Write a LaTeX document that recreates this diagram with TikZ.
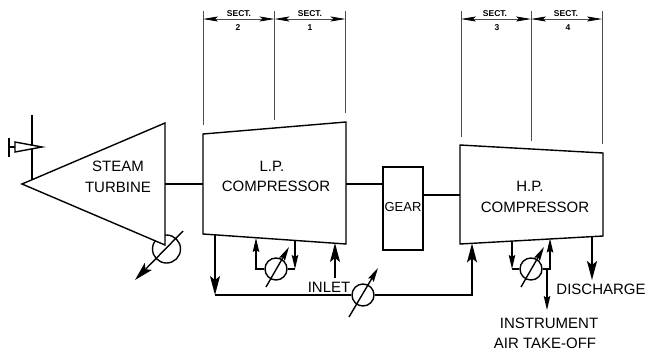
\documentclass[tikz,border=0pt]{standalone}
\usepackage{fontspec}
\setmainfont{Liberation Sans}
\usetikzlibrary{arrows.meta}

\begin{document}
\begin{tikzpicture}[x=1pt,y=-1pt,line width=1.4pt,line join=miter]
		\tikzset{
			label/.style={inner sep=0pt,font=\fontsize{15}{18}\selectfont},
			sectlabel/.style={inner sep=0pt,font=\fontsize{8.5}{10}\selectfont\bfseries},
			cooler/.style={draw,circle,inner sep=0pt,minimum size=22pt},
			flow/.style={-{Stealth[length=19pt,width=10pt,inset=4pt]}},
			smallflow/.style={-{Stealth[length=14pt,width=6.5pt,inset=2pt]}},
			sectline/.style={line width=0.7pt,black!70},
			sectdim/.style={line width=0.7pt,black!70,{Stealth[length=15pt,width=5pt,inset=3pt,black]}-{Stealth[length=15pt,width=5pt,inset=3pt,black]}}
		}
		\useasboundingbox (0,0) rectangle (647,354);

		% machines
		\node[cooler,minimum size=28pt] (condenser) at (166.5,249) {};
		\coordinate (turbtip) at (22,184);
		\coordinate (turbtop) at (165,123);
		\coordinate (turbbot) at (165,245);
		\coordinate (turbout) at (165,184);
		\draw[fill=white] (turbtip) -- (turbtop) -- (turbbot) -- cycle;
		\node[label] (turbtext1) at (118,166) {STEAM};
		\node[label] (turbtext2) at (118,187) {TURBINE};

		\coordinate (lptl) at (203,134);
		\coordinate (lptr) at (346,122);
		\coordinate (lpbr) at (346,244);
		\coordinate (lpbl) at (203,234);
		\draw (lptl) -- (lptr) -- (lpbr) -- (lpbl) -- cycle;
		\node[label] (lptext1) at (272,166) {L.P.};
		\node[label] (lptext2) at (276,186) {COMPRESSOR};

		\node[draw,minimum width=40pt,minimum height=83pt,inner sep=0pt] (gear) at (403,208.5) {};
		\node[inner sep=0pt,font=\fontsize{13}{15}\selectfont] (geartext) at (403,207) {GEAR};

		\coordinate (hptl) at (460,145);
		\coordinate (hptr) at (603,153);
		\coordinate (hpbr) at (603,236);
		\coordinate (hpbl) at (460,244);
		\draw (hptl) -- (hptr) -- (hpbr) -- (hpbl) -- cycle;
		\node[label] (hptext1) at (530,186) {H.P.};
		\node[label] (hptext2) at (535,207) {COMPRESSOR};

		% shafts
		\coordinate (lpin) at (203,184);
		\coordinate (lpout) at (346,184);
		\coordinate (hpin) at (460,195);
		\draw (turbout) -- (lpin);
		\draw (lpout) -- (gear.west |- lpout);
		\draw (gear.east |- hpin) -- (hpin);

		% steam valve
		\coordinate (steamtop) at (32,115);
		\coordinate (steambot) at (32,180);
		\coordinate (valvel) at (15,142);
		\coordinate (valvem) at (15,147);
		\coordinate (valver) at (15,152);
		\coordinate (valvetip) at (42,147);
		\coordinate (handle) at (9,147);
		\coordinate (handletop) at (9,138);
		\coordinate (handlebot) at (9,157);
		\draw (steamtop) -- (steambot);
		\draw[fill=white] (valvel) -- (valvetip) -- (valver) -- cycle;
		\draw (handletop) -- (handlebot);
		\draw (handle) -- (valvem);

		% condenser
		\coordinate (condtop) at (183,231);
		\coordinate (condbot) at (135,280);
		\draw[flow] (condtop) -- (condbot);

		% interstage and inlet
		\coordinate (lpdrop) at (215,234.8);
		\coordinate (linkl) at (215,295);
		\coordinate (linkr) at (472,295);
		\coordinate (hpin2) at (472,243.4);
		\node[cooler] (inletcool) at (363,295) {};
		\coordinate (inletbot) at (349,317);
		\coordinate (inlettop) at (378,268);
		\coordinate (inletfrom) at (335,278);
		\coordinate (inletto) at (335,243);
		\draw[flow] (lpdrop) -- (linkl);
		\draw (linkl) -- (inletcool);
		\draw[flow] (inletcool) -- (linkr) -- (hpin2);
		\draw[smallflow] (inletbot) -- (inlettop);
		\draw[flow] (inletfrom) -- (inletto);
		\node[label] (inlettext) at (329,287) {INLET};

		% l.p. cooler
		\node[cooler] (lpcool) at (276,269) {};
		\coordinate (lpcooll) at (256,269);
		\coordinate (lpcoolr) at (295,269);
		\coordinate (lpcoolt) at (256,238);
		\coordinate (lpcoolb) at (295,241);
		\coordinate (lparrowa) at (266,287);
		\coordinate (lparrowb) at (289,247);
		\draw[smallflow] (lpcool) -- (lpcooll) -- (lpcoolt);
		\draw[smallflow] (lpcoolb) -- (lpcoolr);
		\draw (lpcoolr) -- (lpcool);
		\draw[smallflow] (lparrowa) -- (lparrowb);

		% h.p. cooler
		\node[cooler] (hpcool) at (531,269) {};
		\coordinate (hpcooll) at (512,269);
		\coordinate (hpcoolr) at (550,269);
		\coordinate (hpcoolt) at (512,242);
		\coordinate (hpcoolb) at (550,238.5);
		\coordinate (hparrowa) at (521,287);
		\coordinate (hparrowb) at (544,247);
		\coordinate (takeoff) at (547,269);
		\coordinate (takeoffend) at (547,310);
		\coordinate (dischtop) at (592,236.7);
		\coordinate (dischend) at (592,280);
		\draw[smallflow] (hpcoolt) -- (hpcooll);
		\draw (hpcooll) -- (hpcool);
		\draw[smallflow] (hpcool) -- (hpcoolr) -- (hpcoolb);
		\draw[smallflow] (hparrowa) -- (hparrowb);
		\draw[smallflow] (takeoff) -- (takeoffend);
		\draw[flow] (dischtop) -- (dischend);
		\node[label] (dischtext) at (601,289) {DISCHARGE};
		\node[label] (instrtext1) at (549,323) {INSTRUMENT};
		\node[label] (instrtext2) at (545,343) {AIR TAKE-OFF};

		% sections
		\coordinate (secta) at (203,19);
		\coordinate (sectb) at (274.5,19);
		\coordinate (sectc) at (345.5,19);
		\coordinate (sectd) at (461,19);
		\coordinate (secte) at (531,19);
		\coordinate (sectf) at (602,19);
		\coordinate (sectaa) at (203,11);
		\coordinate (sectbb) at (274.5,11);
		\coordinate (sectcc) at (345.5,11);
		\coordinate (sectdd) at (461,11);
		\coordinate (sectee) at (531,11);
		\coordinate (sectff) at (602,11);
		\coordinate (sectaz) at (203,125);
		\coordinate (sectbz) at (274.5,120);
		\coordinate (sectcz) at (345.5,113);
		\coordinate (sectdz) at (461,137);
		\coordinate (sectez) at (531,141);
		\coordinate (sectfz) at (602,144);
		\draw[sectline] (sectaa) -- (sectaz);
		\draw[sectline] (sectbb) -- (sectbz);
		\draw[sectline] (sectcc) -- (sectcz);
		\draw[sectline] (sectdd) -- (sectdz);
		\draw[sectline] (sectee) -- (sectez);
		\draw[sectline] (sectff) -- (sectfz);
		\draw[sectdim] (secta) -- (sectb);
		\draw[sectdim] (sectb) -- (sectc);
		\draw[sectdim] (sectd) -- (secte);
		\draw[sectdim] (secte) -- (sectf);
		\node[sectlabel] (sect2a) at (239,14) {SECT.};
		\node[sectlabel] (sect2b) at (238,28) {2};
		\node[sectlabel] (sect1a) at (310,14) {SECT.};
		\node[sectlabel] (sect1b) at (310,28) {1};
		\node[sectlabel] (sect3a) at (495,14) {SECT.};
		\node[sectlabel] (sect3b) at (497,28) {3};
		\node[sectlabel] (sect4a) at (566,14) {SECT.};
		\node[sectlabel] (sect4b) at (568,28) {4};
	\end{tikzpicture}
\end{document}
